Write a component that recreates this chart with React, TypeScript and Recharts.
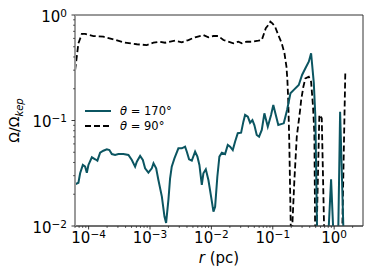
import { LineChart, Line, XAxis, YAxis, ReferenceArea, Legend } from 'recharts';

// theta = 170 deg (solid teal)
const r170 = [
  6.03e-5, 6.82e-5, 7.27e-5, 8.05e-5, 8.78e-5, 9.35e-5, 9.93e-5, 1.13e-4, 1.28e-4, 1.39e-4,
  1.54e-4, 1.74e-4, 1.98e-4, 2.18e-4, 2.39e-4, 2.7e-4, 3.06e-4, 3.69e-4, 4.45e-4, 5.06e-4,
  5.72e-4, 6.1e-4, 6.9e-4, 7.64e-4, 8.32e-4, 9.42e-4, 1.07e-3, 1.14e-3, 1.26e-3, 1.37e-3,
  1.56e-3, 1.72e-3, 1.83e-3, 2.0e-3, 2.12e-3, 2.26e-3, 2.5e-3, 2.9e-3, 3.3e-3, 3.73e-3,
  3.98e-3, 4.33e-3, 4.8e-3, 5.43e-3, 5.92e-3, 6.38e-3, 6.98e-3, 7.41e-3, 8.11e-3, 8.94e-3,
  9.89e-3, 1.08e-2, 1.15e-2, 1.25e-2, 1.35e-2, 1.48e-2, 1.67e-2, 1.85e-2, 2.02e-2, 2.23e-2,
  2.43e-2, 2.69e-2, 3.05e-2, 3.32e-2, 3.54e-2, 3.92e-2, 4.27e-2, 4.66e-2, 5.01e-2, 5.48e-2,
  5.98e-2, 6.62e-2, 7.3e-2, 8.29e-2, 9.38e-2, 0.102, 0.112, 0.123, 0.151, 0.171,
  0.194, 0.22, 0.265, 0.3, 0.34, 0.386, 0.421, 0.466, 0.494, 0.526,
  0.6, 0.817, 0.891, 0.96, 1.05, 1.17, 1.25, 1.41, 1.5,
];
const omega170 = [
  0.0248, 0.0257, 0.0316, 0.0379, 0.0365, 0.032, 0.0379, 0.0448, 0.0429, 0.0416,
  0.0495, 0.0517, 0.0533, 0.0525, 0.0481, 0.0471, 0.0481, 0.0481, 0.0471, 0.0422,
  0.0365, 0.0407, 0.0461, 0.0422, 0.0352, 0.032, 0.0352, 0.0393, 0.0352, 0.0273,
  0.019, 0.0123, 0.0107, 0.018, 0.028, 0.0365, 0.0438, 0.0545, 0.0545, 0.0565,
  0.0506, 0.0429, 0.0416, 0.0506, 0.0454, 0.0379, 0.0245, 0.0316, 0.0345, 0.0273,
  0.019, 0.0137, 0.0152, 0.0293, 0.0454, 0.0495, 0.0481, 0.0586, 0.0565, 0.0525,
  0.063, 0.0757, 0.0766, 0.0975, 0.113, 0.109, 0.0953, 0.101, 0.0906, 0.0729,
  0.0702, 0.0813, 0.117, 0.0873, 0.113, 0.14, 0.113, 0.0906, 0.094, 0.126,
  0.181, 0.195, 0.217, 0.27, 0.313, 0.361, 0.434, 0.227, 0.109, 0.0099,
  0.001, 0.0099, 0.0277, 0.0099, 0.001, 0.0099, 0.121, 0.0099, 0.001,
];

// theta = 90 deg (dashed black)
const r90 = [
  6.03e-5, 6.82e-5, 7.75e-5, 8.77e-5, 1.2e-4, 1.74e-4, 2.54e-4, 3.69e-4, 6.1e-4, 8.87e-4,
  1.14e-3, 1.46e-3, 1.76e-3, 2.56e-3, 3.3e-3, 4.22e-3, 5.43e-3, 7.41e-3, 8.94e-3, 1.08e-2,
  1.3e-2, 1.57e-2, 1.89e-2, 2.28e-2, 2.75e-2, 3.13e-2, 3.77e-2, 4.55e-2, 5.82e-2, 6.62e-2,
  7.69e-2, 8.48e-2, 9.14e-2, 9.86e-2, 0.109, 0.123, 0.14, 0.155, 0.167, 0.173,
  0.179, 0.186, 0.196, 0.202, 0.209, 0.225, 0.246, 0.279, 0.29, 0.315,
  0.34, 0.386, 0.421, 0.453, 0.476, 0.489, 0.505, 0.521, 0.574, 0.628,
  0.685, 1.0, 1.36, 1.52,
];
const omega90 = [
  0.301, 0.539, 0.661, 0.661, 0.632, 0.623, 0.588, 0.551, 0.528, 0.519,
  0.546, 0.558, 0.546, 0.571, 0.551, 0.579, 0.615, 0.646, 0.615, 0.632,
  0.632, 0.579, 0.558, 0.539, 0.558, 0.539, 0.558, 0.558, 0.571, 0.579,
  0.748, 0.804, 0.864, 0.834, 0.775, 0.646, 0.539, 0.434, 0.324, 0.242,
  0.15, 0.06, 0.0106, 0.004, 0.0106, 0.0273, 0.0702, 0.126, 0.156, 0.209,
  0.251, 0.26, 0.233, 0.135, 0.0757, 0.0106, 0.003, 0.0099, 0.113, 0.105,
  0.0099, 0.001, 0.0099, 0.29,
];

const xDecades = [1e-5, 1e-4, 1e-3, 1e-2, 1e-1, 1];
const yDecades = [1e-2, 1e-1, 1];
const minorSteps = [2, 3, 4, 5, 6, 7, 8, 9];
const xDomain = [6.0e-5, 2.95];
const yDomain = [0.01, 1];

const legendItems = [
  { angle: '170', color: '#0b5561', dash: undefined },
  { angle: '90', color: '#000000', dash: '6 3' },
];

const FONT = 'DejaVu Sans, sans-serif';
const TEAL = '#0b5561';

const data170 = r170.map((r, i) => ({ r, omega: omega170[i] }));
const data90 = r90.map((r, i) => ({ r, omega: omega90[i] }));

const buildTicks = (decades: number[], domain: number[]) => {
  const all: number[] = [];
  decades.forEach((d) => {
    all.push(d);
    minorSteps.forEach((m) => all.push(+(d * m).toPrecision(3)));
  });
  return all.filter((v) => v >= domain[0] && v <= domain[1]);
};
const xTicks = buildTicks(xDecades, xDomain);
const yTicks = buildTicks(yDecades, yDomain);

const isMajor = (v: number) => Math.abs(Math.log10(v) - Math.round(Math.log10(v))) < 1e-6;
const expLabel = (v: number) => {
  const e = Math.round(Math.log10(v));
  return e < 0 ? `\u2212${-e}` : `${e}`;
};

const XTick = (props: any) => {
  const { x, y, payload } = props;
  const major = isMajor(payload.value);
  return (
    <g>
      <line x1={x} x2={x} y1={y} y2={y + (major ? 3.5 : 2)} stroke="#222" strokeWidth={major ? 0.9 : 0.7} />
      {major && (
        <text x={x} y={y + 17} textAnchor="middle" fontFamily={FONT} fontSize={15} fill="#000">
          <tspan>10</tspan>
          <tspan dy={-5} fontSize={10.5}>{expLabel(payload.value)}</tspan>
        </text>
      )}
    </g>
  );
};

const YTick = (props: any) => {
  const { x, y, payload } = props;
  const major = isMajor(payload.value);
  return (
    <g>
      <line x1={x} x2={x - (major ? 3.5 : 2)} y1={y} y2={y} stroke="#222" strokeWidth={major ? 0.9 : 0.7} />
      {major && (
        <text x={x - 8} y={y + 6.5} textAnchor="end" fontFamily={FONT} fontSize={15} fill="#000">
          <tspan>10</tspan>
          <tspan dy={-5} fontSize={10.5}>{expLabel(payload.value)}</tspan>
        </text>
      )}
    </g>
  );
};

const YLabel = (props: any) => {
  const vb = props.viewBox || { x: 0, y: 0, width: 0, height: 0 };
  const cx = 19;
  const cy = vb.y + vb.height / 2;
  return (
    <text
      x={cx}
      y={cy}
      transform={`rotate(-90 ${cx} ${cy})`}
      textAnchor="middle"
      fontFamily={FONT}
      fontSize={14}
      fill="#000"
    >
      <tspan>Ω/Ω</tspan>
      <tspan dy={4} fontSize={10} fontStyle="italic">kep</tspan>
    </text>
  );
};

const XLabel = (props: any) => {
  const vb = props.viewBox || { x: 0, y: 0, width: 0, height: 0 };
  return (
    <text x={vb.x + vb.width / 2} y={263} textAnchor="middle" fontFamily={FONT} fontSize={15} fill="#000">
      <tspan fontStyle="italic">r</tspan>
      <tspan> (pc)</tspan>
    </text>
  );
};

const renderLegend = () => (
  <div style={{ fontFamily: FONT, fontSize: 11.5, color: '#000' }}>
    {legendItems.map((item) => (
      <div key={item.angle} style={{ display: 'flex', alignItems: 'center', height: 15 }}>
        <svg width={26} height={4}>
          <line x1={0} y1={2} x2={26} y2={2} stroke={item.color} strokeWidth={2} strokeDasharray={item.dash} />
        </svg>
        <span style={{ marginLeft: 9 }}>
          <i>θ</i> = {item.angle}°
        </span>
      </div>
    ))}
  </div>
);

export default function App() {
  return (
    <div style={{ position: 'absolute', left: 0, top: 0 }}>
      <LineChart width={374} height={280} margin={{ top: 15, right: 11, left: 0, bottom: 0 }}>
        <ReferenceArea
          x1={xDomain[0]}
          x2={xDomain[1]}
          y1={yDomain[0]}
          y2={yDomain[1]}
          fill="none"
          stroke="#333"
          strokeWidth={1}
          ifOverflow="visible"
        />
        <XAxis
          dataKey="r"
          type="number"
          scale="log"
          domain={xDomain}
          allowDataOverflow
          ticks={xTicks}
          interval={0}
          tick={<XTick />}
          tickSize={0}
          tickMargin={0}
          tickLine={false}
          height={54}
          axisLine={{ stroke: '#444', strokeWidth: 1 }}
          label={<XLabel />}
        />
        <YAxis
          dataKey="omega"
          type="number"
          scale="log"
          domain={yDomain}
          allowDataOverflow
          ticks={yTicks}
          interval={0}
          tick={<YTick />}
          tickSize={0}
          tickMargin={0}
          tickLine={false}
          width={75}
          axisLine={{ stroke: '#9a9a9a', strokeWidth: 2 }}
          label={<YLabel />}
        />
        <Legend
          content={renderLegend}
          layout="horizontal"
          verticalAlign="middle"
          align="center"
          wrapperStyle={{ left: 85, top: 103, width: 'auto' }}
        />
        <Line
          data={data90}
          dataKey="omega"
          type="linear"
          stroke="#000"
          strokeWidth={1.8}
          strokeDasharray="6 3"
          dot={false}
          isAnimationActive={false}
        />
        <Line
          data={data170}
          dataKey="omega"
          type="linear"
          stroke={TEAL}
          strokeWidth={2}
          dot={false}
          isAnimationActive={false}
        />
      </LineChart>
    </div>
  );
}
